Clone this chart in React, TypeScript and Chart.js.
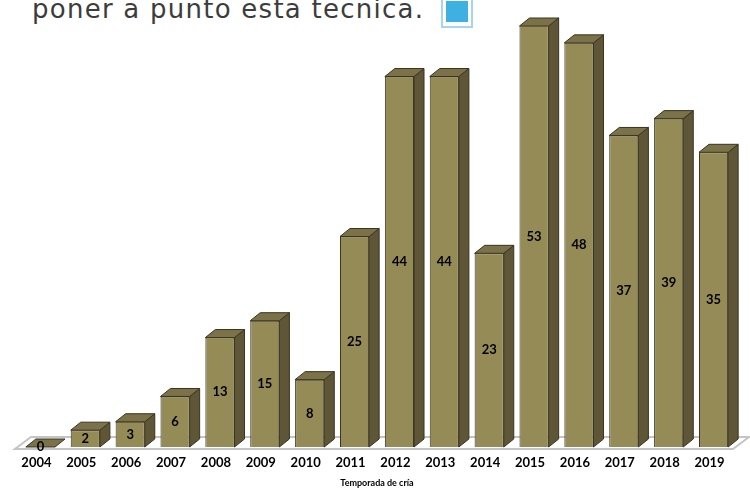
import React, { useEffect, useRef } from "react";
import { Chart, registerables } from "chart.js";

Chart.register(...registerables);

const categories = ["2004", "2005", "2006", "2007", "2008", "2009", "2010", "2011", "2012", "2013", "2014", "2015", "2016", "2017", "2018", "2019"];
const values = [0, 2, 3, 6, 13, 15, 8, 25, 44, 44, 23, 53, 48, 37, 39, 35];
const yMin = 0;
const yMax = 50;
const headingText = "poner a punto esta tecnica.";
const xAxisTitle = "Temporada de cría";

const FRONT = "#958b56";
const SIDE = "#5e5636";
const TOP = "#7b7249";
const EDGE = "#3a3420";
const DX = 10;
const DY = 8;

const bar3d = {
  id: "bar3d",
  beforeDatasetsDraw(chart: any) {
    const ctx = chart.ctx;
    const a = chart.chartArea;
    const yb = a.bottom;
    ctx.save();
    ctx.beginPath();
    ctx.moveTo(a.left - 3, yb + 2);
    ctx.lineTo(a.right - 3, yb + 2);
    ctx.lineTo(a.right + 13, yb - 10);
    ctx.lineTo(a.left + 13, yb - 10);
    ctx.closePath();
    ctx.fillStyle = "#ffffff";
    ctx.fill();
    ctx.strokeStyle = "#c4c4c4";
    ctx.lineWidth = 2;
    ctx.stroke();
    ctx.restore();
  },
  afterDatasetsDraw(chart: any) {
    const ctx = chart.ctx;
    const a = chart.chartArea;
    const meta = chart.getDatasetMeta(0);
    ctx.save();
    meta.data.forEach((el: any, i: number) => {
      const { x, y, base, width } = el.getProps(["x", "y", "base", "width"], true);
      const top = Math.max(y, a.top);
      const l = x - width / 2;
      const r = x + width / 2;
      ctx.lineWidth = 1;
      ctx.strokeStyle = EDGE;
      ctx.lineJoin = "round";
      if (base - top > 0.5) {
        ctx.beginPath();
        ctx.moveTo(r, top);
        ctx.lineTo(r + DX, top - DY);
        ctx.lineTo(r + DX, base - DY);
        ctx.lineTo(r, base);
        ctx.closePath();
        ctx.fillStyle = SIDE;
        ctx.fill();
        ctx.stroke();
      }
      ctx.beginPath();
      ctx.moveTo(l, top);
      ctx.lineTo(l + DX, top - DY);
      ctx.lineTo(r + DX, top - DY);
      ctx.lineTo(r, top);
      ctx.closePath();
      ctx.fillStyle = TOP;
      ctx.fill();
      ctx.stroke();
      ctx.fillStyle = "#000";
      ctx.font = "bold 13px Lato";
      ctx.textAlign = "center";
      ctx.textBaseline = "middle";
      const ly = base - top > 0.5 ? (top + base) / 2 : base;
      ctx.fillText(String(values[i]), x, ly);
    });
    ctx.restore();
  },
};

export default function App() {
  const ref = useRef<HTMLCanvasElement | null>(null);
  useEffect(() => {
    if (!ref.current) return;
    const chart = new Chart(ref.current, {
      type: "bar",
      data: {
        labels: categories,
        datasets: [
          {
            data: values,
            backgroundColor: FRONT,
            borderColor: EDGE,
            borderWidth: 1,
            categoryPercentage: 1,
            barPercentage: 0.65,
          },
        ],
      },
      options: {
        responsive: true,
        maintainAspectRatio: false,
        animation: false,
        layout: { padding: { left: 18, right: 14, top: 26, bottom: 0 } },
        plugins: { legend: { display: false }, tooltip: { enabled: false } },
        scales: {
          y: { display: false, min: yMin, max: yMax },
          x: {
            grid: { display: false, drawTicks: false },
            border: { display: false },
            afterFit: (scale: any) => {
              scale.height = 49;
            },
            ticks: {
              font: { family: "Lato", weight: "bold", size: 13 },
              color: "#000",
              padding: 8,
              labelOffset: -4,
              maxRotation: 0,
              autoSkip: false,
            },
            title: {
              display: true,
              text: xAxisTitle,
              font: { family: "Lato", weight: "bold", size: 9 },
              color: "#000",
              padding: { top: 7, bottom: 7.6 },
            },
          },
        },
      },
      plugins: [bar3d],
    });
    return () => chart.destroy();
  }, []);

  return (
    <div style={{ position: "fixed", left: 0, top: 0, width: 750, height: 496, background: "#fff", overflow: "hidden" }}>
      <div
        style={{
          position: "absolute",
          left: 32,
          top: -9.5,
          fontFamily: "DejaVu Sans",
          fontSize: 26,
          letterSpacing: 1.25,
          lineHeight: "36px",
          color: "#3c3c3c",
          whiteSpace: "nowrap",
        }}
      >
        {headingText}
      </div>
      <div
        style={{
          position: "absolute",
          left: 441,
          top: -4,
          width: 28,
          height: 28,
          border: "2px solid #a6d6ef",
          background: "#fff",
          boxSizing: "content-box",
        }}
      >
        <div style={{ position: "absolute", left: 3, top: 3, width: 22, height: 21, background: "#3fb0e2" }} />
      </div>
      <div style={{ position: "absolute", left: 0, top: 0, width: 750, height: 496 }}>
        <canvas ref={ref} />
      </div>
    </div>
  );
}
